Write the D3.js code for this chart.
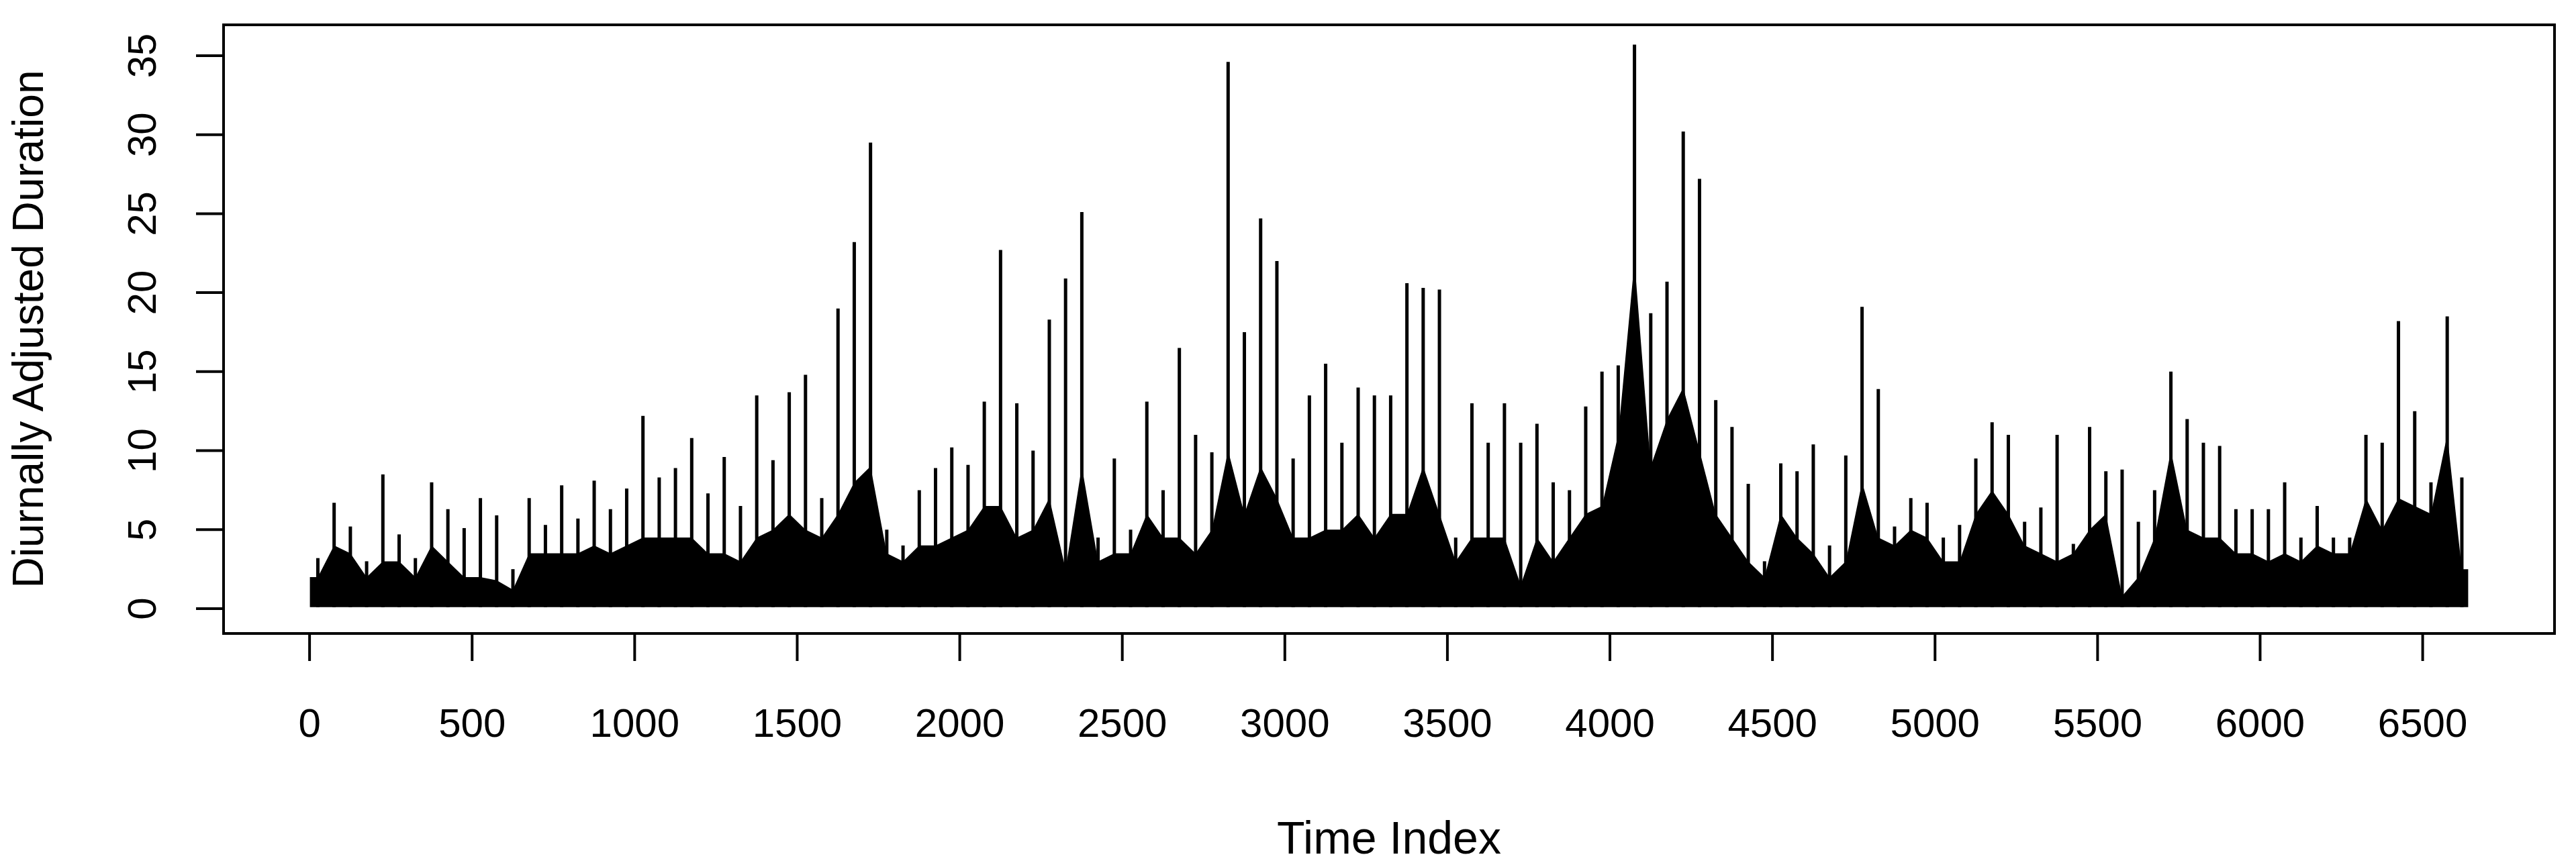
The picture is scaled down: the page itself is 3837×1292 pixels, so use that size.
<!DOCTYPE html>
<html>
<head>
<meta charset="utf-8">
<script src="https://cdn.jsdelivr.net/npm/d3@7"></script>
<style>
  body { margin: 0; background: #fff; }
  text { font-family: "Liberation Sans", Arial, sans-serif; fill: #000; }
</style>
</head>
<body>
<svg id="chart" width="3837" height="1292"></svg>
<script>
// series summarised in bins of 50 observations (bin i covers i*50 .. i*50+50)
const binSize = 50;
const nObs = 6640;
// highest value inside each bin
const binPeak = [
  3.2, 6.7, 5.2, 3.0, 8.5, 4.7, 3.2, 8.0, 6.3, 5.1,
  7.0, 5.9, 2.5, 7.0, 5.3, 7.8, 5.7, 8.1, 6.3, 7.6,
  12.2, 8.3, 8.9, 10.8, 7.3, 9.6, 6.5, 13.5, 9.4, 13.7,
  14.8, 7.0, 19.0, 23.2, 29.5, 5.0, 4.0, 7.5, 8.9, 10.2,
  9.1, 13.1, 22.7, 13.0, 10.0, 18.3, 20.9, 25.1, 4.5, 9.5,
  5.0, 13.1, 7.5, 16.5, 11.0, 9.9, 34.6, 17.5, 24.7, 22.0,
  9.5, 13.5, 15.5, 10.5, 14.0, 13.5, 13.5, 20.6, 20.3, 20.2,
  4.5, 13.0, 10.5, 13.0, 10.5, 11.7, 8.0, 7.5, 12.8, 15.0,
  15.4, 35.7, 18.7, 20.7, 30.2, 27.2, 13.2, 11.5, 7.9, 3.0,
  9.2, 8.7, 10.4, 4.0, 9.7, 19.1, 13.9, 5.2, 7.0, 6.7,
  4.5, 5.3, 9.5, 11.8, 11.0, 5.5, 6.4, 11.0, 4.1, 11.5,
  8.7, 8.8, 5.5, 7.5, 15.0, 12.0, 10.5, 10.3, 6.3, 6.3,
  6.3, 8.0, 4.5, 6.5, 4.5, 4.5, 11.0, 10.5, 18.2, 12.5,
  8.0, 18.5, 8.3
];
// typical upper level of the dense black mass in each bin
const binBody = [
  2, 4, 3.5, 2, 3, 3, 2, 4, 3, 2,
  2, 1.8, 1.2, 3.5, 3.5, 3.5, 3.5, 4, 3.5, 4,
  4.5, 4.5, 4.5, 4.5, 3.5, 3.5, 3, 4.5, 5, 6,
  5, 4.5, 6, 8, 9, 3.5, 3, 4, 4, 4.5,
  5, 6.5, 6.5, 4.5, 5, 7, 2.5, 9, 3, 3.5,
  3.5, 6, 4.5, 4.5, 3.5, 5, 10, 6, 9, 7,
  4.5, 4.5, 5, 5, 6, 4.5, 6, 6, 9, 6,
  3, 4.5, 4.5, 4.5, 1.5, 4.5, 3, 4.5, 6, 6.5,
  11, 22, 9, 12, 14, 10, 6, 4.5, 3, 2,
  6, 4.5, 3.5, 2, 3, 8, 4.5, 4, 5, 4.5,
  3, 3, 6, 7.5, 6, 4, 3.5, 3, 3.5, 5,
  6, 0.8, 2, 4.5, 10, 5, 4.5, 4.5, 3.5, 3.5,
  3, 3.5, 3, 4, 3.5, 3.5, 7, 5, 7, 6.5,
  6, 11, 2.5
];
const binFloor = 0.1;
const xTicks = d3.range(0, 6501, 500);
const yTicks = d3.range(0, 36, 5);

const svg = d3.select('#chart');
const box = { left: 333, right: 3805, top: 37, bottom: 944 };

const pad = 0.04 * (nObs - 1);
const x = d3.scaleLinear().domain([1 - pad, nObs + pad]).range([box.left, box.right]);
const y = d3.scaleLinear().domain([-1.57, 36.95]).range([box.bottom, box.top]);

const bins = binPeak.map((p, i) => ({
  start: i * binSize + 1,
  end: Math.min((i + 1) * binSize, nObs),
  mid: (i * binSize + 1 + Math.min((i + 1) * binSize, nObs)) / 2,
  peak: p,
  body: binBody[i],
}));

// dense body of the series
const body = d3.area()
  .x((d) => x(d.pos))
  .y0(y(binFloor))
  .y1((d) => y(d.body));
const bodyPts = [
  { pos: 1, body: bins[0].body },
  ...bins.map((d) => ({ pos: d.mid, body: d.body })),
  { pos: nObs, body: bins[bins.length - 1].body },
];
svg.append('path')
  .datum(bodyPts)
  .attr('d', body)
  .attr('fill', '#000');

// spikes
svg.append('g')
  .selectAll('line')
  .data(bins)
  .join('line')
  .attr('x1', (d) => x(d.mid))
  .attr('x2', (d) => x(d.mid))
  .attr('y1', y(binFloor))
  .attr('y2', (d) => y(d.peak))
  .attr('stroke', '#000')
  .attr('stroke-width', 5);

// frame
svg.append('rect')
  .attr('x', box.left).attr('y', box.top)
  .attr('width', box.right - box.left).attr('height', box.bottom - box.top)
  .attr('fill', 'none').attr('stroke', '#000').attr('stroke-width', 4);

// x axis
const xAxis = svg.append('g');
xAxis.selectAll('line').data(xTicks).join('line')
  .attr('x1', x).attr('x2', x)
  .attr('y1', box.bottom).attr('y2', box.bottom + 41)
  .attr('stroke', '#000').attr('stroke-width', 4);
xAxis.selectAll('text').data(xTicks).join('text')
  .attr('x', x).attr('y', 1098)
  .attr('text-anchor', 'middle')
  .style('font-size', '60px')
  .text((d) => d);

// y axis
const yAxis = svg.append('g');
yAxis.selectAll('line').data(yTicks).join('line')
  .attr('x1', box.left).attr('x2', box.left - 41)
  .attr('y1', y).attr('y2', y)
  .attr('stroke', '#000').attr('stroke-width', 4);
yAxis.selectAll('text').data(yTicks).join('text')
  .attr('transform', (d) => `translate(232,${y(d)}) rotate(-90)`)
  .attr('text-anchor', 'middle')
  .style('font-size', '60px')
  .text((d) => d);

svg.append('text')
  .attr('x', (box.left + box.right) / 2).attr('y', 1272)
  .attr('text-anchor', 'middle')
  .style('font-size', '68px')
  .text('Time Index');

svg.append('text')
  .attr('transform', `translate(64,${(box.top + box.bottom) / 2}) rotate(-90)`)
  .attr('text-anchor', 'middle')
  .style('font-size', '64px')
  .text('Diurnally Adjusted Duration');
</script>
</body>
</html>
